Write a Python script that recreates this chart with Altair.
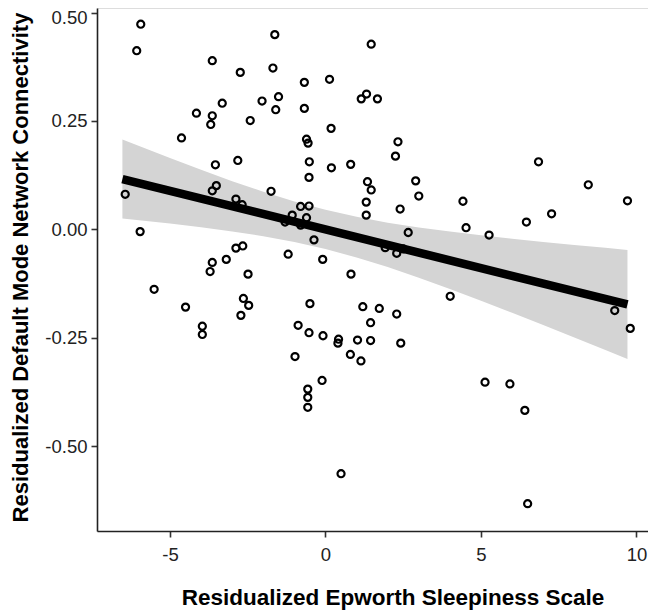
import altair as alt
import pandas as pd

# Scatter points (Residualized ESS, Residualized DMN connectivity)
x_vals = [-5.94, -6.07, -3.64, -2.74, -3.32, -2.04, -4.15, -3.64, -3.69, -2.42,
          -4.63, -3.54, -2.82, -1.63, 1.47, -1.69, -0.68, 0.13, -1.51, -1.60,
          -0.68, 1.15, 1.32, 1.67, 0.18, -0.61, -0.56, 2.33, 2.25, -0.52,
          0.19, 0.81, -0.53, 1.35, 2.90, 6.85, -6.44, -3.51, -3.64, -2.88,
          -2.68, -5.96, -2.88, -2.66, -3.19, -3.64, -3.71, -2.49, -5.51, -4.50,
          -2.64, -2.47, -2.72, -3.96, -3.96, -1.75, 1.47, 3.00, 1.31, 1.31,
          2.40, -0.80, -0.53, -1.07, -0.61, -1.30, -0.80, -0.37, 2.66, 1.92,
          2.29, 2.50, -1.20, -0.09, 0.82, -0.50, 1.20, 1.73, 2.29, 1.45,
          -0.88, -0.53, -0.08, 0.42, 0.40, 1.03, 1.45, 2.42, -0.98, 0.80,
          1.14, -0.11, -0.57, -0.57, -0.57, 0.50, 5.13, 5.93, 6.41, 6.50,
          4.42, 4.52, 5.26, 6.46, 7.27, 4.01, 8.45, 9.71, 9.30, 9.80]
y_vals = [0.473, 0.412, 0.389, 0.362, 0.291, 0.296, 0.268, 0.262, 0.242, 0.251,
          0.211, 0.149, 0.159, 0.449, 0.427, 0.372, 0.339, 0.346, 0.306, 0.276,
          0.279, 0.301, 0.312, 0.301, 0.233, 0.208, 0.199, 0.202, 0.169, 0.156,
          0.142, 0.150, 0.120, 0.110, 0.112, 0.156, 0.081, 0.101, 0.089, 0.070,
          0.057, -0.005, -0.043, -0.038, -0.069, -0.076, -0.097, -0.103, -0.138, -0.179,
          -0.159, -0.175, -0.198, -0.223, -0.242, 0.088, 0.091, 0.077, 0.063, 0.033,
          0.047, 0.053, 0.054, 0.033, 0.027, 0.017, 0.010, -0.024, -0.007, -0.042,
          -0.055, -0.045, -0.057, -0.069, -0.103, -0.171, -0.178, -0.182, -0.195, -0.215,
          -0.221, -0.238, -0.245, -0.253, -0.262, -0.255, -0.256, -0.262, -0.293, -0.288,
          -0.303, -0.348, -0.368, -0.387, -0.410, -0.563, -0.352, -0.356, -0.417, -0.632,
          0.065, 0.004, -0.013, 0.017, 0.036, -0.154, 0.103, 0.066, -0.187, -0.228]

# Fitted regression line
fit_x = [-6.53, 9.71]
fit_y = [0.1162, -0.1728]

# 95% confidence band
band_x = [-6.53, -5, -4, -3, -2, -1, 0, 1, 2, 3, 4, 5, 6, 7, 8, 9, 9.71]
band_lo = [0.0253, 0.0136, 0.0050, -0.0045, -0.0156, -0.0290, -0.0452, -0.0646, -0.0868,
           -0.1113, -0.1374, -0.1644, -0.1922, -0.2205, -0.2491, -0.2780, -0.2985]
band_hi = [0.2071, 0.1644, 0.1374, 0.1113, 0.0868, 0.0646, 0.0452, 0.0290, 0.0156,
           0.0045, -0.0050, -0.0136, -0.0214, -0.0287, -0.0357, -0.0424, -0.0471]

x_ticks = [-5, 0, 5, 10]
y_ticks = [-0.5, -0.25, 0, 0.25, 0.5]

points = pd.DataFrame({"x": x_vals, "y": y_vals})
fit = pd.DataFrame({"x": fit_x, "y": fit_y})
band = pd.DataFrame({"x": band_x, "lo": band_lo, "hi": band_hi})

FONT = "Liberation Sans"
xs = alt.Scale(domain=[-7.347, 10.37], nice=False, zero=False)
ys = alt.Scale(domain=[-0.695, 0.5104], nice=False, zero=False)

x_axis = alt.Axis(
    title="Residualized Epworth Sleepiness Scale",
    values=x_ticks,
    labelExpr="datum.value < 0 ? '-' + format(-datum.value, 'd') : format(datum.value, 'd')",
    grid=False, domainColor="#222222", domainWidth=1.6,
    tickColor="#333333", tickWidth=1.6, tickSize=6,
    labelFont=FONT, labelFontSize=18.5, labelColor="#222222", labelPadding=8,
    titleFont=FONT, titleFontSize=22.5, titleFontWeight="bold", titleColor="#000000",
    titleX=295.5, titleY=73, titleBaseline="alphabetic", titleAlign="center",
)
y_axis = alt.Axis(
    title="Residualized Default Mode Network Connectivity",
    values=y_ticks,
    labelExpr="datum.value < 0 ? '-' + format(-datum.value, '.2f') : format(datum.value, '.2f')",
    grid=False, domainColor="#222222", domainWidth=1.6,
    tickColor="#333333", tickWidth=1.6, tickSize=6,
    labelFont=FONT, labelFontSize=18.5, labelColor="#222222", labelPadding=4,
    labelOffset={"condition": {"test": "datum.value >= 0.5", "value": 5}, "value": 0},
    titleFont=FONT, titleFontSize=22, titleFontWeight="bold", titleColor="#000000",
    titleX=-70, titleY=259, titleBaseline="alphabetic", titleAlign="center", titleAngle=270,
)

x_enc = alt.X("x:Q", scale=xs, axis=x_axis)

band_layer = alt.Chart(band).mark_area(color="#d4d4d4", opacity=1).encode(
    x=x_enc,
    y=alt.Y("lo:Q", scale=ys, axis=y_axis),
    y2="hi:Q",
)

line_layer = alt.Chart(fit).mark_line(color="#000000", strokeWidth=8.5, strokeCap="butt").encode(
    x=x_enc,
    y=alt.Y("y:Q", scale=ys, axis=y_axis),
)

point_layer = alt.Chart(points).mark_point(
    shape="circle", filled=False, color="#000000", strokeWidth=2.2, size=50, opacity=1
).encode(
    x=x_enc,
    y=alt.Y("y:Q", scale=ys, axis=y_axis),
)

chart = alt.layer(band_layer, line_layer, point_layer).properties(
    width=551,
    height=523,
    autosize=alt.AutoSizeParams(type="none"),
    padding={"left": 89, "top": 0, "right": 0, "bottom": 82},
).configure_view(strokeWidth=0, stroke="transparent").configure(background="#ffffff")

chart.save("out.html", embed_options={"renderer": "svg", "actions": False})
